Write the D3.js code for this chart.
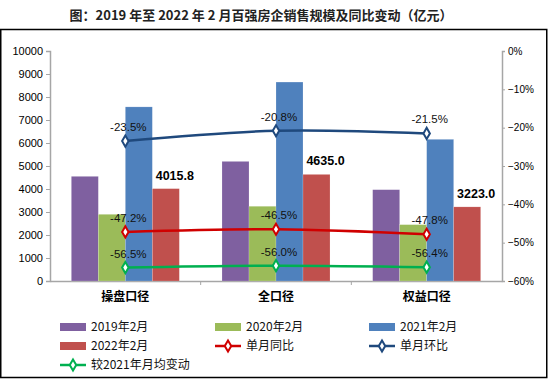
<!DOCTYPE html>
<html>
<head>
<meta charset="utf-8">
<script src="https://cdn.jsdelivr.net/npm/d3@7"></script>
<style>
  body { margin: 0; background: #fff; }
  svg { display: block; font-family: "Liberation Sans", Arial, sans-serif; }
</style>
</head>
<body>
<div id="chart"></div>
<script>
// data
var categories = ["操盘口径", "全口径", "权益口径"];
var barSeries = ["2019年2月", "2020年2月", "2021年2月", "2022年2月"];
var sales2019 = [4550, 5200, 3970];
var sales2020 = [2900, 3250, 2450];
var sales2021 = [7570, 8650, 6160];
var sales2022 = [4015.8, 4635.0, 3223.0];
var yoy = [-47.2, -46.5, -47.8];        // 单月同比
var mom = [-23.5, -20.8, -21.5];        // 单月环比
var vsAvg2021 = [-56.5, -56.0, -56.4];  // 较2021年月均变动
var leftTicks = d3.range(0, 10001, 1000);
var rightTicks = [0, -10, -20, -30, -40, -50, -60];

var barColors = ["#7F60A0", "#9BBB59", "#4F81BD", "#C0504D"];
var lineSeries = [
    { name: "单月同比", values: yoy, color: "#D00000" },
    { name: "单月环比", values: mom, color: "#1F497D" },
    { name: "较2021年月均变动", values: vsAvg2021, color: "#00B050" }
];

var width = 550, height = 380;
var plot = { left: 50, right: 502, top: 51, bottom: 281 };

var svg = d3.select("#chart")
    .append("svg")
    .attr("width", width)
    .attr("height", height);

// frame and title
svg.append("rect")
    .attr("x", 0.75).attr("y", 29.5)
    .attr("width", 546).attr("height", 348)
    .attr("fill", "none").attr("stroke", "#000").attr("stroke-width", 1.5);

svg.append("text")
    .attr("x", 261).attr("y", 20)
    .attr("text-anchor", "middle")
    .attr("font-family", "'Noto Sans CJK SC', sans-serif")
    .attr("font-weight", "bold")
    .attr("font-size", 13)
    .attr("fill", "#222")
    .text("图：2019 年至 2022 年 2 月百强房企销售规模及同比变动（亿元）");

// scales
var x0 = d3.scaleBand()
    .domain(categories)
    .range([plot.left, plot.right])
    .padding(0);

var x1 = d3.scaleBand()
    .domain(barSeries)
    .range([0, x0.bandwidth()])
    .paddingInner(0)
    .paddingOuter(0.79);

var y = d3.scaleLinear()
    .domain([0, 10000])
    .range([plot.bottom, plot.top]);

var y2 = d3.scaleLinear()
    .domain([-60, 0])
    .range([plot.bottom, plot.top]);

// axes
var axisColor = "#A6A6A6";
var leftAxis = svg.append("g")
    .attr("transform", "translate(" + plot.left + ",0)")
    .call(d3.axisLeft(y).tickValues(leftTicks).tickSize(4).tickPadding(3).tickFormat(d3.format("d")));

var rightAxis = svg.append("g")
    .attr("transform", "translate(" + plot.right + ",0)")
    .call(d3.axisRight(y2).tickValues(rightTicks).tickSize(3).tickPadding(3)
        .tickFormat(function(d) { return (d < 0 ? "\u2212" + (-d) : d) + "%"; }));

var bottomAxis = svg.append("g")
    .attr("transform", "translate(0," + plot.bottom + ")")
    .call(d3.axisBottom(x0).tickSize(0).tickPadding(11));

[leftAxis, rightAxis, bottomAxis].forEach(function(g) {
    g.select(".domain").attr("stroke", axisColor).attr("stroke-width", 1.5);
    g.selectAll(".tick line").attr("stroke", axisColor);
    g.selectAll("text").attr("fill", "#000").attr("font-size", 11);
});
rightAxis.selectAll("text").attr("font-size", 10);
bottomAxis.selectAll("text")
    .attr("font-family", "'Noto Sans CJK SC', sans-serif")
    .attr("font-weight", "bold")
    .attr("font-size", 12);

// category dividers under the baseline
svg.append("g")
    .selectAll("line")
    .data(categories.slice(1))
    .enter()
    .append("line")
    .attr("x1", function(d) { return x0(d); })
    .attr("x2", function(d) { return x0(d); })
    .attr("y1", plot.bottom)
    .attr("y2", plot.bottom + 4)
    .attr("stroke", axisColor);

// bars
var barData = [sales2019, sales2020, sales2021, sales2022];
var groups = svg.append("g")
    .selectAll("g")
    .data(categories)
    .enter()
    .append("g")
    .attr("transform", function(d) { return "translate(" + x0(d) + ",0)"; });

groups.selectAll("rect")
    .data(function(d, i) {
        return barSeries.map(function(s, j) { return { series: s, value: barData[j][i], color: barColors[j] }; });
    })
    .enter()
    .append("rect")
    .attr("x", function(d) { return x1(d.series); })
    .attr("y", function(d) { return y(d.value); })
    .attr("width", x1.bandwidth())
    .attr("height", function(d) { return plot.bottom - y(d.value); })
    .attr("fill", function(d) { return d.color; })
    .attr("stroke", "#fff")
    .attr("stroke-opacity", 0.35)
    .attr("stroke-width", 0.5);

// 2022 value labels
svg.append("g")
    .selectAll("text")
    .data(categories)
    .enter()
    .append("text")
    .attr("x", function(d) { return x0(d) + x1("2022年2月") + x1.bandwidth() / 2 + 9; })
    .attr("y", function(d, i) { return y(sales2022[i]) - 9; })
    .attr("text-anchor", "middle")
    .attr("font-weight", "bold")
    .attr("font-size", 12.5)
    .text(function(d, i) { return sales2022[i].toFixed(1); });

// lines
var cx = function(i) { return x0(categories[i]) + x0.bandwidth() / 2; };
var line = d3.line()
    .x(function(d, i) { return cx(i); })
    .y(function(d) { return y2(d); })
    .curve(d3.curveCatmullRom);

var diamond = d3.symbol().type(d3.symbolDiamond).size(36);

lineSeries.forEach(function(s) {
    var g = svg.append("g");
    g.append("path")
        .attr("d", line(s.values))
        .attr("fill", "none")
        .attr("stroke", s.color)
        .attr("stroke-width", 2.5);
    g.selectAll("path.marker")
        .data(s.values)
        .enter()
        .append("path")
        .attr("class", "marker")
        .attr("d", diamond)
        .attr("transform", function(d, i) { return "translate(" + cx(i) + "," + y2(d) + ")"; })
        .attr("fill", "#fff")
        .attr("stroke", s.color)
        .attr("stroke-width", 2);
    g.selectAll("text")
        .data(s.values)
        .enter()
        .append("text")
        .attr("x", function(d, i) { return cx(i) + 3; })
        .attr("y", function(d) { return y2(d) - 10; })
        .attr("text-anchor", "middle")
        .attr("font-size", 11.5)
        .attr("fill", "#111")
        .text(function(d) { return d.toFixed(1) + "%"; });
});

// legend
var legendItems = [
    { name: barSeries[0], type: "bar", color: barColors[0] },
    { name: barSeries[1], type: "bar", color: barColors[1] },
    { name: barSeries[2], type: "bar", color: barColors[2] },
    { name: barSeries[3], type: "bar", color: barColors[3] },
    { name: lineSeries[0].name, type: "line", color: lineSeries[0].color },
    { name: lineSeries[1].name, type: "line", color: lineSeries[1].color },
    { name: lineSeries[2].name, type: "line", color: lineSeries[2].color }
];
var legendCols = [60, 215, 369];
var legendRows = [327, 346, 365];

var legend = svg.append("g")
    .selectAll("g")
    .data(legendItems)
    .enter()
    .append("g")
    .attr("transform", function(d, i) {
        return "translate(" + legendCols[i % 3] + "," + legendRows[Math.floor(i / 3)] + ")";
    });

legend.filter(function(d) { return d.type == "bar"; })
    .append("rect")
    .attr("x", 0).attr("y", -4)
    .attr("width", 26).attr("height", 8)
    .attr("fill", function(d) { return d.color; });

legend.filter(function(d) { return d.type == "line"; })
    .append("line")
    .attr("x1", 0).attr("x2", 26)
    .attr("stroke", function(d) { return d.color; })
    .attr("stroke-width", 2.5);

legend.filter(function(d) { return d.type == "line"; })
    .append("path")
    .attr("d", diamond)
    .attr("transform", "translate(13,0)")
    .attr("fill", "#fff")
    .attr("stroke", function(d) { return d.color; })
    .attr("stroke-width", 2);

legend.append("text")
    .attr("x", 31)
    .attr("y", 0)
    .attr("dy", "0.36em")
    .attr("font-family", "'Noto Sans CJK SC', sans-serif")
    .attr("font-size", 12)
    .attr("fill", "#111")
    .text(function(d) { return d.name; });
</script>
</body>
</html>
